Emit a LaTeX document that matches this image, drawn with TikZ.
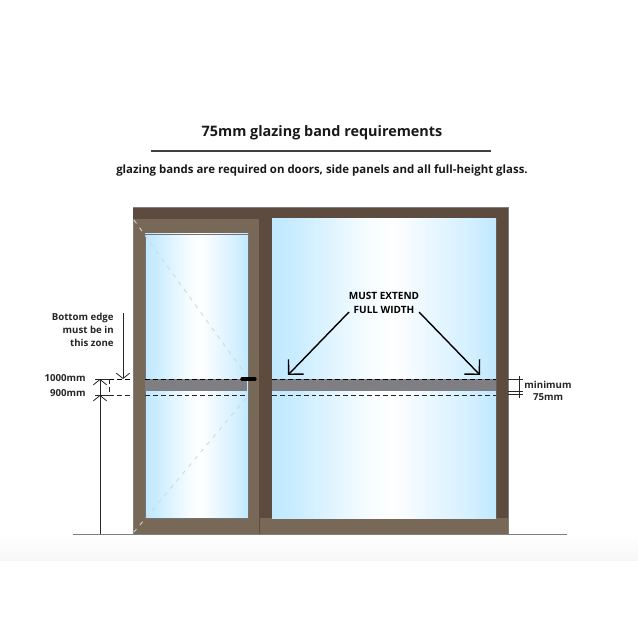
\documentclass[tikz,border=0pt]{standalone}
\usepackage{fontspec}
\setmainfont{Open Sans}
\usetikzlibrary{arrows.meta}

\definecolor{framedark}{HTML}{5E4B3F}
\definecolor{framelight}{HTML}{786857}
\definecolor{bandgrey}{HTML}{7F7F83}
\definecolor{glassblue}{HTML}{C0E8FF}
\definecolor{glassa}{HTML}{C8ECFF}
\definecolor{glassb}{HTML}{DDF3FF}
\definecolor{glassc}{HTML}{F5FCFF}
\definecolor{glassd}{HTML}{EAF7FF}
\definecolor{glasse}{HTML}{D4F0FF}
\pgfdeclarehorizontalshading{glassfill}{100bp}{color(0bp)=(glassblue); color(25bp)=(glassblue); color(30bp)=(glassa); color(37bp)=(glassb); color(46bp)=(glassc); color(52bp)=(white); color(60bp)=(glassd); color(69bp)=(glasse); color(75bp)=(glassblue); color(100bp)=(glassblue)}

\begin{document}
\begin{tikzpicture}[
        x=0.02cm, y=-0.02cm,
        glass/.style={shading=glassfill},
        band/.style={fill=bandgrey},
        dimline/.style={draw=black!85, line width=0.45pt},
        cutline/.style={draw=black, line width=0.55pt, dash pattern=on 2.8pt off 1.7pt},
        lowline/.style={draw=black!85, line width=0.45pt, dash pattern=on 2.8pt off 1.7pt},
        swingline/.style={draw=black!16, line width=0.5pt, dash pattern=on 2.4pt off 3pt},
        dimarrow/.style={dimline, -{Straight Barb[length=3pt, width=7.5pt]}},
        bigarrow/.style={draw=black, line width=0.8pt, -{Straight Barb[length=6pt, width=12pt]}},
        label/.style={font=\bfseries\fontsize{5.5}{7.6}\selectfont, text=black!85, align=center, inner sep=0pt}
    ]
 \useasboundingbox (0,0) rectangle (638,638);
 \fill[white] (0,0) rectangle (638,638);
 \shade[top color=white, bottom color=black!3] (0,534) rectangle (638,560);

 % frame and door leaf
 \fill[framedark] (133,207) rectangle (508,534);
 \fill[framelight] (133,219) rectangle (259,534);
 \fill[framelight] (259,518) rectangle (508,534);
 \draw[framedark, line width=0.3pt] (259.5,518) -- (259.5,534);
 \draw[gray, line width=0.3pt] (133,534) -- (133,219);
 \draw[gray, line width=0.3pt] (133,207) -- (508,207) -- (508,534);
 \draw[gray, line width=0.5pt] (73,534) -- (567,534);

 % glass
 \path[glass, draw=black!55, line width=0.45pt] (145,234) rectangle (248,518);
 \path[glass] (272,219) rectangle (496,518);
 \fill[band] (145,379) rectangle (247,391);
 \fill[band] (272,379) rectangle (496,391);

 % door swing
 \draw[swingline] (134,220) -- (246,375);
 \draw[swingline] (246,398) -- (134,532);

 % cut lines
 \coordinate (tickL) at (95,379);
 \coordinate (tickLL) at (95,395);
 \coordinate (doorA) at (131,379);
 \coordinate (doorB) at (131,395);
 \draw[cutline] (145,379) -- (247,379);
 \draw[lowline] (145,395) -- (245,395);
 \draw[cutline] (272,379) -- (496,379);
 \draw[lowline] (272,395) -- (496,395);
 \draw[cutline] (109,379) -- (doorA);
 \draw[lowline] (109,395) -- (doorB);
 \draw[lowline] (109,379) -- (109,395);
 \draw[dimline] (tickL) -- (109,379);
 \draw[dimline] (tickLL) -- (109,395);

 % handle
 \draw[black, line width=1.9pt, line cap=round] (242,379) -- (255,379);

 % left dimensions
 \coordinate (floorA) at (100,534);
 \coordinate (zoneA) at (100,395);
 \coordinate (zoneB) at (100,379);
 \coordinate (zoneC) at (123,379);
 \draw[dimarrow] (floorA) -- (zoneA);
 \draw[dimarrow] (zoneA) -- (zoneB);
 \node[label, anchor=north east, align=right] (bottom) at (114,312.5) {Bottom edge\\must be in\\this zone};
 \coordinate (zoneD) at (123,313);
 \draw[dimarrow] (zoneD) -- (zoneC);
 \node[label, anchor=east] (high) at (86,378) {1000mm};
 \node[label, anchor=east] (low) at (86,393) {900mm};

 % right dimensions
 \coordinate (bandA) at (508,379);
 \coordinate (bandB) at (508,391);
 \coordinate (bandC) at (508,394);
 \draw[dimline] (bandA) -- +(15,0);
 \draw[dimline] (bandB) -- +(15,0);
 \draw[dimline] (bandC) -- +(15,0);
 \draw[dimline] (519,376) -- (519,398);
 \node[label] (minimum) at (548,384.5) {minimum};
 \node[label] (seventyfive) at (548,397) {75mm};

 % full width
 \node[label, font=\bfseries\fontsize{5.7}{7.8}\selectfont, text=black] (extend) at (384,303) {MUST EXTEND\\FULL WIDTH};
 \coordinate (tipL) at (288,375);
 \coordinate (tipR) at (480,375);
 \draw[bigarrow] (349,312) -- (tipL);
 \draw[bigarrow] (419,312) -- (tipR);

 % heading
 \node[font=\bfseries\fontsize{8.2}{10}\selectfont, text=black!90, inner sep=0pt] (title) at (322,133) {75mm glazing band requirements};
 \coordinate (ruleL) at (151,151);
 \coordinate (ruleR) at (491,151);
 \draw[black!75, line width=0.6pt] (ruleL) -- (ruleR);
 \node[font=\bfseries\fontsize{6.5}{8}\selectfont, text=black!90, inner sep=0pt] (sub) at (322,170.5) {glazing bands are required on doors, side panels and all full-height glass.};
\end{tikzpicture}
\end{document}
